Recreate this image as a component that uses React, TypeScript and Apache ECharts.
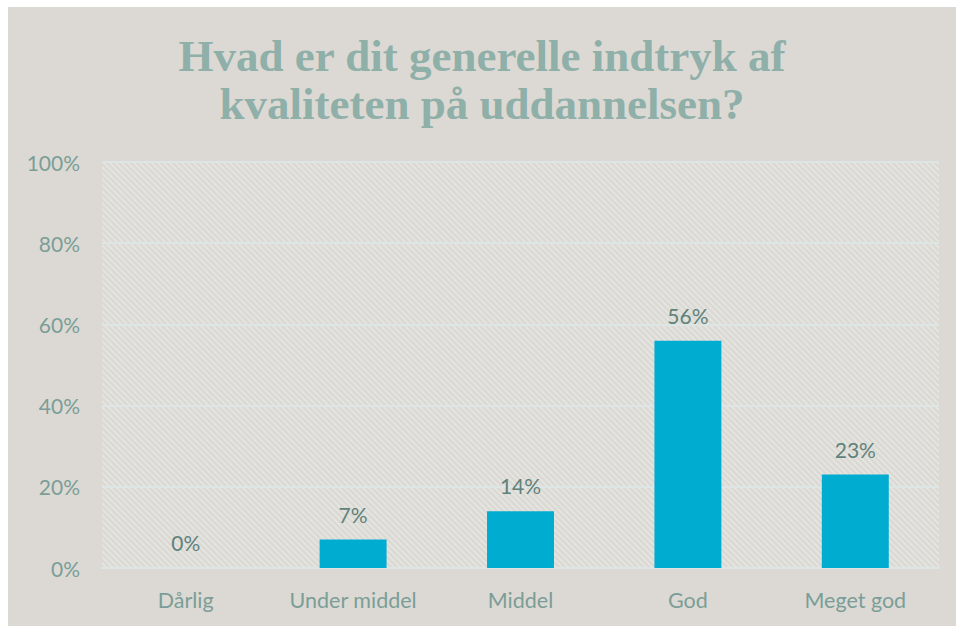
import React, { useEffect, useRef } from "react";
import * as echarts from "echarts";

const titleText = "Hvad er dit generelle indtryk af\nkvaliteten på uddannelsen?";
const categories = ["Dårlig", "Under middel", "Middel", "God", "Meget god"];
const values = [0, 7, 14, 56, 23];
const yTicks = [0, 20, 40, 60, 80, 100];

function makeHatch(): HTMLCanvasElement {
  const c = document.createElement("canvas");
  const s = 6;
  c.width = s;
  c.height = s;
  const ctx = c.getContext("2d")!;
  ctx.fillStyle = "#dcd9d4";
  ctx.fillRect(0, 0, s, s);
  ctx.strokeStyle = "#e4e6e2";
  ctx.lineWidth = 1.6;
  ctx.beginPath();
  ctx.moveTo(-1, -1);
  ctx.lineTo(s + 1, s + 1);
  ctx.moveTo(-1, s - 1);
  ctx.lineTo(1, s + 1);
  ctx.moveTo(s - 1, -1);
  ctx.lineTo(s + 1, 1);
  ctx.stroke();
  return c;
}

export default function App() {
  const ref = useRef<HTMLDivElement>(null);
  useEffect(() => {
    if (!ref.current) return;
    const chart = echarts.init(ref.current, null, { renderer: "svg" });
    chart.setOption({
      animation: false,
      backgroundColor: "#dcd9d4",
      title: {
        text: titleText,
        left: "center",
        top: 20,
        textStyle: {
          fontFamily: "Liberation Serif",
          fontWeight: "bold",
          fontSize: 45,
          lineHeight: 48,
          color: "#8fafa9",
        },
      },
      grid: {
        left: 94,
        right: 17,
        top: 155,
        bottom: 58,
        show: true,
        borderWidth: 0,
        backgroundColor: { image: makeHatch(), repeat: "repeat" },
      },
      xAxis: {
        type: "category",
        data: categories,
        axisLine: { show: true, lineStyle: { color: "#dde6e4", width: 2 } },
        axisTick: { show: false },
        axisLabel: {
          color: "#7a9e97",
          fontFamily: "Lato",
          fontSize: 21.5,
          margin: 21,
        },
      },
      yAxis: {
        type: "value",
        min: yTicks[0],
        max: yTicks[yTicks.length - 1],
        interval: 20,
        axisLine: { show: false },
        axisTick: { show: false },
        splitLine: { lineStyle: { color: "#dde6e4", width: 2 } },
        axisLabel: {
          color: "#7a9e97",
          fontFamily: "Lato",
          fontSize: 21,
          margin: 22,
          formatter: (v: number) => `${v}%`,
        },
      },
      series: [
        {
          type: "bar",
          data: values,
          barWidth: "40%",
          itemStyle: { color: "#00acd0" },
          label: {
            show: true,
            position: "top",
            distance: 15,
            color: "#5f827b",
            fontFamily: "Lato",
            fontSize: 21,
            formatter: (p: any) => `${p.value}%`,
          },
        },
      ],
    });
    return () => chart.dispose();
  }, []);
  return (
    <div
      ref={ref}
      style={{ position: "fixed", left: 8, top: 7, width: 948, height: 619 }}
    />
  );
}
